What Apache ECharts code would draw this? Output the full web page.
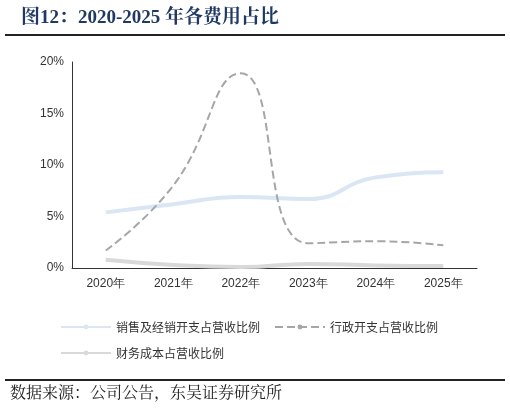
<!DOCTYPE html>
<html><head><meta charset="utf-8">
<script src="https://cdn.jsdelivr.net/npm/echarts@6/dist/echarts.min.js"></script>
<style>body{margin:0}#c{width:510px;height:414px}</style></head>
<body><div id="c"></div>
<script>
const categories=['2020年','2021年','2022年','2023年','2024年','2025年'];
const sales=[5.4,6.2,6.9,6.7,8.8,9.3];
const admin=[1.7,8.0,18.9,2.4,2.6,2.2];
const finance=[0.8,0.3,0.1,0.4,0.25,0.2];
const yTicks=[0,5,10,15,20];
const names=['销售及经销开支占营收比例','行政开支占营收比例','财务成本占营收比例'];
const chart=echarts.init(document.getElementById('c'));
chart.setOption({
 animation:false,
 title:{text:'图12：2020-2025 年各费用占比',left:16,top:4,textStyle:{fontFamily:'Liberation Serif, Noto Serif CJK SC, Noto Sans CJK SC',fontWeight:'bold',fontSize:19,color:'#1f3864'}},
 graphic:[
  {type:'rect',shape:{x:5,y:34,width:500,height:2},style:{fill:'#222'}},
  {type:'rect',shape:{x:5,y:379,width:500,height:2},style:{fill:'#222'}},
  {type:'text',left:10,top:384,style:{text:'数据来源：公司公告，东吴证券研究所',font:'16px "Noto Serif CJK SC","AR PL UMing CN",serif',fill:'#222'}}
 ],
 grid:{left:72,right:33,top:62,bottom:146},
 legend:{left:55,top:316,width:420,itemWidth:50,itemHeight:6,itemGap:14,textStyle:{fontSize:12,color:'#333',fontFamily:'Noto Sans CJK SC'},
  data:names},
 xAxis:{type:'category',data:categories,axisLine:{lineStyle:{color:'#333'}},axisTick:{show:false},
  axisLabel:{color:'#333',fontSize:12,margin:10}},
 yAxis:{type:'value',min:0,max:20,interval:5,axisLine:{show:true,lineStyle:{color:'#333'}},splitLine:{show:false},
  axisLabel:{formatter:v=>yTicks.includes(v)?v+'%':'',color:'#333',fontSize:12}},
 series:[
  {name:names[0],type:'line',smooth:true,symbol:'none',data:sales,color:'#dae6f3',lineStyle:{width:4,color:'#dae6f3'}},
  {name:names[1],type:'line',smooth:true,symbol:'none',data:admin,color:'#a6a6a6',lineStyle:{width:2,type:'dashed',color:'#a6a6a6'}},
  {name:names[2],type:'line',smooth:true,symbol:'none',data:finance,color:'#d9d9d9',lineStyle:{width:4,color:'#d9d9d9'}}
 ]
});
</script></body></html>
